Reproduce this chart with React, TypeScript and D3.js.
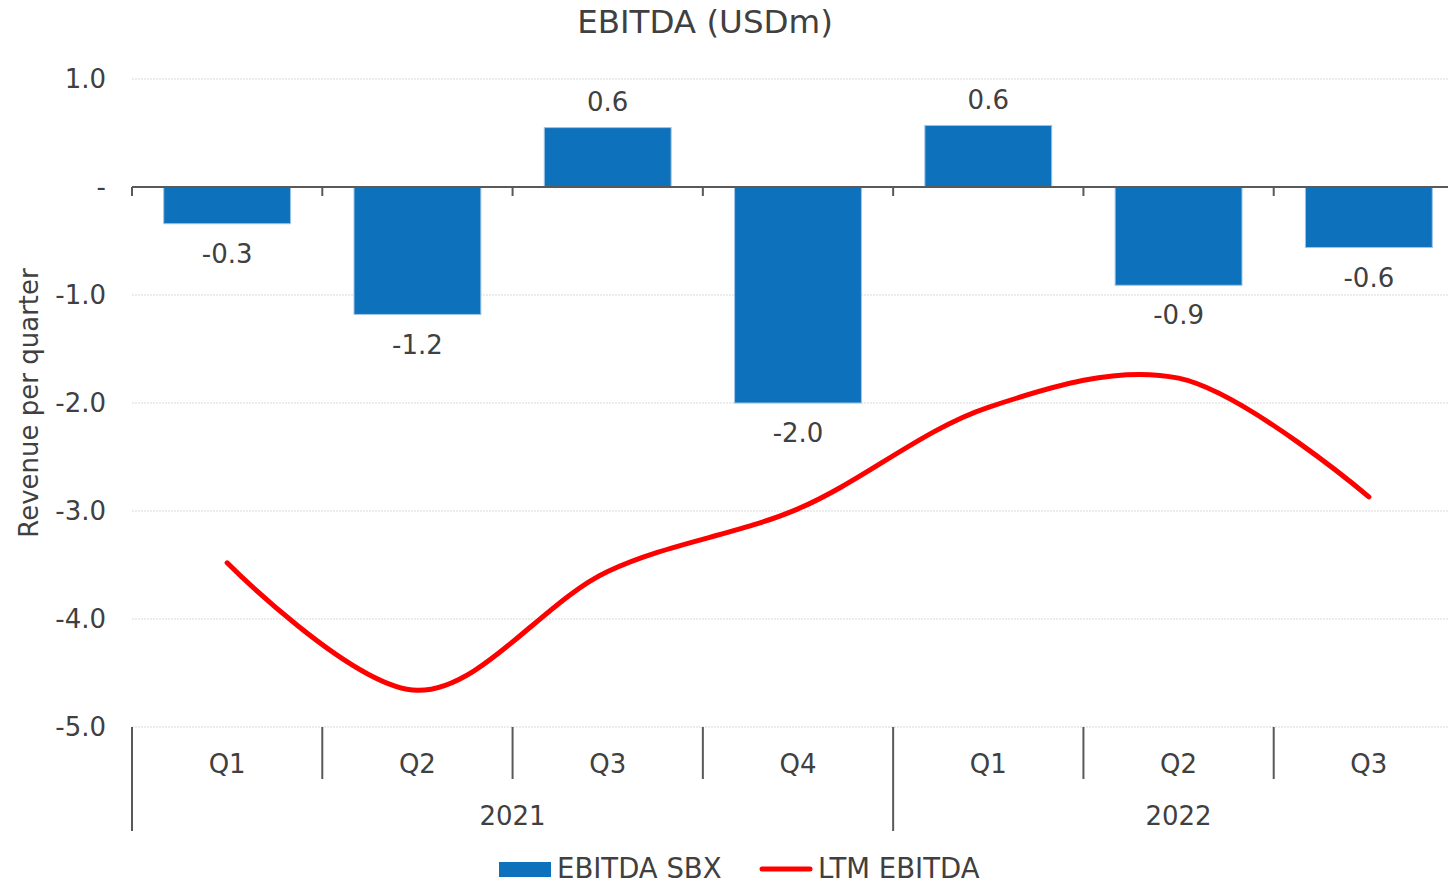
import React from "react";
import * as d3 from "d3";

const quarters = ["Q1", "Q2", "Q3", "Q4", "Q1", "Q2", "Q3"];
const years = [
  { label: "2021", start: 0, end: 4 },
  { label: "2022", start: 4, end: 7 },
];
const ebitdaSbx = [-0.34, -1.18, 0.55, -2.0, 0.57, -0.91, -0.56];
const ltmEbitda = [-3.48, -4.66, -3.56, -2.98, -2.04, -1.77, -2.87];
const yTicks = [1, 0, -1, -2, -3, -4, -5];

const W = 1448;
const H = 884;
const FONT = "'DejaVu Sans', Verdana, sans-serif";
const TXT = "#404040";

const fmt1 = (v: number) => d3.format(".1f")(v).replace("\u2212", "-");

export default function App() {
  const left = 132;
  const right = 1464;
  const x = d3.scaleBand<number>().domain(d3.range(quarters.length)).range([left, right]).paddingInner(1 / 3).paddingOuter(1 / 6);
  const step = (right - left) / quarters.length;
  const y = d3.scaleLinear().domain([-5, 1]).range([727, 79]);
  const cx = (i: number) => (x(i) as number) + x.bandwidth() / 2;
  const line = d3
    .line<number>()
    .x((_, i) => cx(i))
    .y((d) => y(d))
    .curve(d3.curveCatmullRom.alpha(0.5));
  const fmt = (v: number) => (v === 0 ? "-" : fmt1(v));

  return (
    <svg width={W} height={H} style={{ position: "absolute", left: 0, top: 0, background: "#fff" }} fontFamily={FONT}>
      <text x={705} y={33} textAnchor="middle" fontSize={32.5} fill={TXT}>
        EBITDA (USDm)
      </text>
      {yTicks.map((t) =>
        t === 0 ? null : (
          <line key={t} x1={left} x2={right} y1={y(t)} y2={y(t)} stroke="#d9d9d9" strokeWidth={1} strokeDasharray="2,1" />
        )
      )}
      {yTicks.map((t) => (
        <text key={"l" + t} x={106} y={y(t)} dy="0.35em" textAnchor="end" fontSize={26} fill={TXT}>
          {fmt(t)}
        </text>
      ))}
      <text transform={`translate(38,403) rotate(-90)`} textAnchor="middle" fontSize={26} fill={TXT}>
        Revenue per quarter
      </text>
      {ebitdaSbx.map((v, i) => (
        <rect
          key={"b" + i}
          x={x(i) as number}
          width={x.bandwidth()}
          y={Math.min(y(v), y(0))}
          height={Math.abs(y(v) - y(0))}
          fill="#0e71bb"
          stroke="#9cc4e8"
          strokeWidth={1}
        />
      ))}
      {ebitdaSbx.map((v, i) => (
        <text
          key={"bl" + i}
          x={cx(i)}
          y={v >= 0 ? y(v) - 26 : y(v) + 30}
          dy="0.35em"
          textAnchor="middle"
          fontSize={26}
          fill={TXT}
        >
          {fmt1(v)}
        </text>
      ))}
      <line x1={left} x2={right} y1={y(0)} y2={y(0)} stroke="#595959" strokeWidth={2} />
      {d3.range(quarters.length + 1).map((i) => (
        <line key={"zt" + i} x1={left + i * step} x2={left + i * step} y1={y(0)} y2={y(0) + 9} stroke="#595959" strokeWidth={2} />
      ))}
      <path d={line(ltmEbitda) || ""} fill="none" stroke="#ff0000" strokeWidth={5} strokeLinecap="round" strokeLinejoin="round" />
      {d3.range(quarters.length + 1).map((i) => {
        const isYear = years.some((yy) => yy.start === i || yy.end === i);
        return (
          <line
            key={"ct" + i}
            x1={left + i * step}
            x2={left + i * step}
            y1={727}
            y2={isYear ? 831 : 779}
            stroke="#595959"
            strokeWidth={2}
          />
        );
      })}
      {quarters.map((q, i) => (
        <text key={"q" + i} x={cx(i)} y={764} dy="0.35em" textAnchor="middle" fontSize={26} fill={TXT}>
          {q}
        </text>
      ))}
      {years.map((yy) => (
        <text
          key={yy.label}
          x={left + ((yy.start + yy.end) / 2) * step}
          y={816}
          dy="0.35em"
          textAnchor="middle"
          fontSize={26}
          fill={TXT}
        >
          {yy.label}
        </text>
      ))}
      <rect x={499} y={862} width={52} height={15} fill="#0e71bb" />
      <text x={557} y={878} fontSize={27.5} fill={TXT}>
        EBITDA SBX
      </text>
      <line x1={762} x2={810} y1={869} y2={869} stroke="#ff0000" strokeWidth={5} strokeLinecap="round" />
      <text x={818} y={878} fontSize={27.5} fill={TXT}>
        LTM EBITDA
      </text>
    </svg>
  );
}
